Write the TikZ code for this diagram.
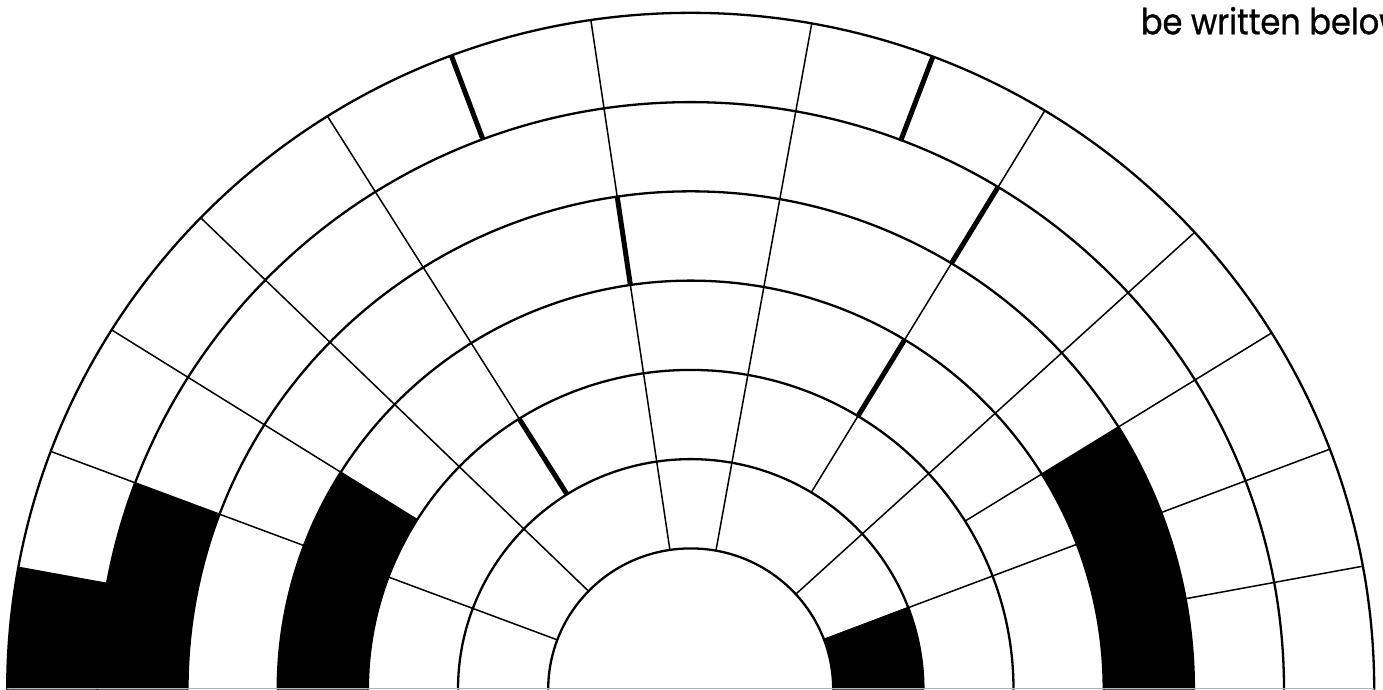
\documentclass[tikz,border=0pt]{standalone}
\usepackage{fontspec}
\newfontfamily\captionfont[FakeStretch=0.89,FakeBold=0.8]{Poppins}
\newcommand\sectorfill[4]{\fill[black] (#1:#3) arc[start angle=#1,end angle=#2,radius=#3] -- (#2:#4) arc[start angle=#2,end angle=#1,radius=#4] -- cycle;}
\begin{document}
\begin{tikzpicture}[x=1pt,y=1pt,
  ringline/.style={line width=2.3pt,black},
  spoke/.style={line width=1.5pt,black},
  thickspoke/.style={line width=5pt,black}]
\useasboundingbox (0,0) rectangle (1383,689);
\clip (0,0) rectangle (1383,689);
\begin{scope}[shift={(690.7,-0.5)}, yscale=0.99]
  \def\Ra{142.5}\def\Rb{232.7}\def\Rc{322.8}\def\Rd{413}\def\Re{503.2}\def\Rf{593.3}\def\Rg{683.5}
  % black cells
  \sectorfill{169.6}{180}{\Rf}{\Rg}
  \sectorfill{159.4}{180}{\Re}{\Rf}
  \sectorfill{147.9}{180}{\Rc}{\Rd}
  \sectorfill{0}{21}{\Ra}{\Rb}
  \sectorfill{0}{31.8}{\Rd}{\Re}
  % thin spokes
  \draw[spoke] (10.5:\Re) -- (10.5:\Rg);
  \draw[spoke] (20.8:\Ra) -- (20.8:\Rd);
  \draw[spoke] (20.8:\Re) -- (20.8:\Rg);
  \draw[spoke] (31.8:\Rc) -- (31.8:\Rg);
  \draw[spoke] (42.5:\Ra) -- (42.5:\Rg);
  \draw[spoke] (58.8:\Rb) -- (58.8:\Rc);
  \draw[spoke] (58.8:\Rd) -- (58.8:\Re);
  \draw[spoke] (58.8:\Rf) -- (58.8:\Rg);
  \draw[spoke] (79.8:\Ra) -- (79.8:\Rg);
  \draw[spoke] (98.4:\Ra) -- (98.4:\Rd);
  \draw[spoke] (98.4:\Re) -- (98.4:\Rg);
  \draw[spoke] (122.1:\Rc) -- (122.1:\Rg);
  \draw[spoke] (135.8:\Ra) -- (135.8:\Rg);
  \draw[spoke] (147.9:\Rc) -- (147.9:\Rg);
  \draw[spoke] (159.4:\Ra) -- (159.4:\Rg);
  \draw[spoke] (169.6:\Rf) -- (169.6:\Rg);
  % thick spokes
  \draw[thickspoke] (58.8:\Rc) -- (58.8:\Rd);
  \draw[thickspoke] (58.8:\Re) -- (58.8:\Rf);
  \draw[thickspoke] (69.25:\Rf) -- (69.25:\Rg);
  \draw[thickspoke] (98.4:\Rd) -- (98.4:\Re);
  \draw[thickspoke] (110.5:\Rf) -- (110.5:\Rg);
  \draw[thickspoke] (122.1:\Rb) -- (122.1:\Rc);
  % rings
  \foreach \r in {\Ra,\Rb,\Rc,\Rd,\Re,\Rf,\Rg}
    \draw[ringline] (0:\r) arc[start angle=0,end angle=180,radius=\r];
\end{scope}
% faint diameter line along the bottom edge
\draw[black!30, line width=0.8pt] (7.2,0.4) -- (1374.2,0.4);
\node[anchor=base west, inner sep=0pt, font=\captionfont\fontsize{36}{40}\selectfont] (caption) at (1140.7,654.7) {be written below};
\end{tikzpicture}
\end{document}
